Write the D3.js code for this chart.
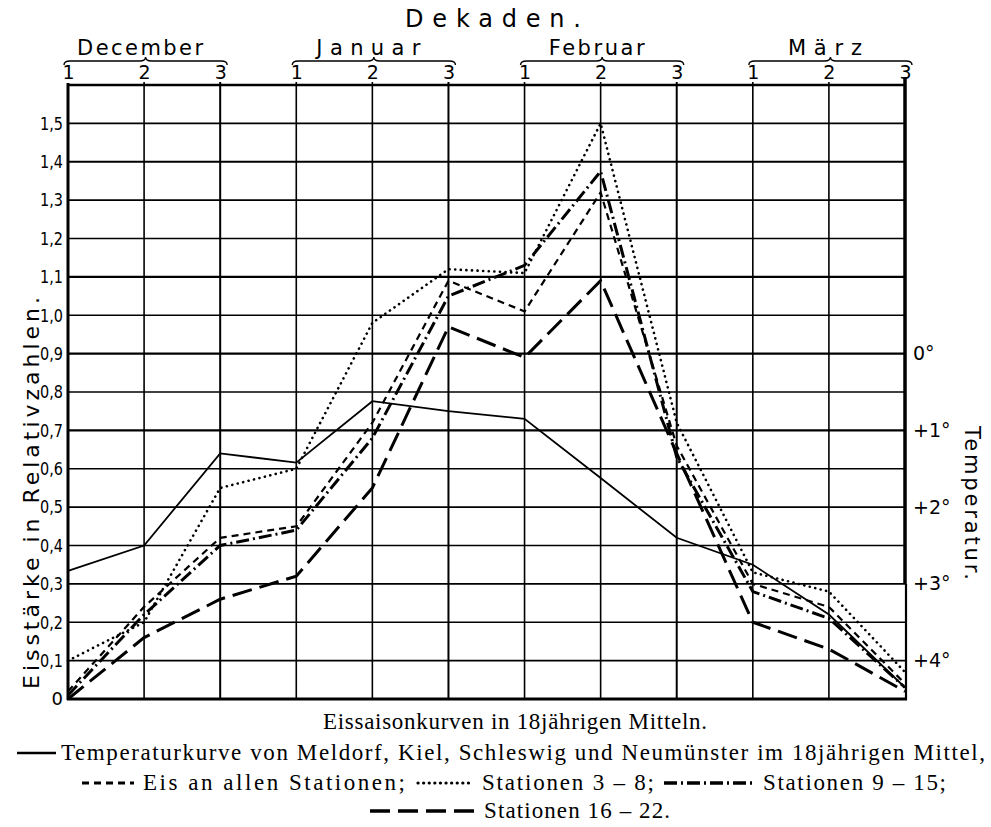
<!DOCTYPE html>
<html>
<head>
<meta charset="utf-8">
<script src="https://cdn.jsdelivr.net/npm/d3@7"></script>
<style>
body { margin: 0; background: #fff; }
</style>
</head>
<body>
<div id="view"></div>
<script>
// Dekaden: je drei pro Monat
var months = ["December", "Januar", "Februar", "März"];
var decades = ["1", "2", "3", "1", "2", "3", "1", "2", "3", "1", "2", "3"];
var yTicks = [0, 0.1, 0.2, 0.3, 0.4, 0.5, 0.6, 0.7, 0.8, 0.9, 1.0, 1.1, 1.2, 1.3, 1.4, 1.5];
var tempTicks = [0, 1, 2, 3, 4];
var tempLabels = ["0°", "+1°", "+2°", "+3°", "+4°"];

// Temperatur in Grad (rechte Skala)
var temperatur = [2.83, 2.5, 1.3, 1.42, 0.62, 0.75, 0.85, 1.62, 2.4, 2.75, 3.4, 4.35];
// Eisstaerke in Relativzahlen (linke Skala)
var eisAlle = [0.02, 0.24, 0.42, 0.45, 0.72, 1.09, 1.01, 1.32, 0.66, 0.30, 0.24, 0.04];
var stat3bis8 = [0.10, 0.20, 0.55, 0.60, 0.98, 1.12, 1.11, 1.50, 0.72, 0.33, 0.28, 0.07];
var stat9bis15 = [0.01, 0.22, 0.40, 0.44, 0.68, 1.05, 1.13, 1.375, 0.63, 0.28, 0.21, 0.03];
var stat16bis22 = [0.0, 0.16, 0.26, 0.32, 0.55, 0.97, 0.89, 1.09, 0.64, 0.20, 0.13, 0.02];

var W = 991, H = 827;
var svg = d3.select("#view")
	.append("svg")
	.attr("id", "main-svg")
	.attr("width", W)
	.attr("height", H)
	.style("font-family", "'DejaVu Sans', sans-serif");

var x = d3.scaleLinear().domain([0, decades.length - 1]).range([68, 905]);
var y = d3.scaleLinear().domain([0, 1.6]).range([699, 85]);
// 0 Grad liegt auf 0,9 , jedes Grad = 0,2
var t = d3.scaleLinear().domain([0, 4]).range([y(0.9), y(0.1)]);

// Gitter
svg.append("g").selectAll("line")
	.data(d3.range(1, 16).map(function(i){ return i / 10; }))
  .enter().append("line")
	.attr("x1", x(0)).attr("x2", x(11))
	.attr("y1", function(d){ return y(d); })
	.attr("y2", function(d){ return y(d); })
	.style("stroke", "#000")
	.style("stroke-width", function(d){ return [1.4, 1.1, 0.9, 0.7].indexOf(d) >= 0 ? 2.2 : 1.6; });

svg.append("g").selectAll("line")
	.data(d3.range(1, 11))
  .enter().append("line")
	.attr("x1", function(d){ return x(d); })
	.attr("x2", function(d){ return x(d); })
	.attr("y1", y(1.6) - 3).attr("y2", y(0))
	.style("stroke", "#000")
	.style("stroke-width", function(d){ return d % 3 == 2 ? 2 : 1.6; });

// Rahmen
svg.append("line").attr("x1", x(0) - 1).attr("x2", x(11) + 1).attr("y1", y(1.6)).attr("y2", y(1.6))
	.style("stroke", "#000").style("stroke-width", 2.4);
svg.append("line").attr("x1", x(0) - 1).attr("x2", x(11) + 2).attr("y1", y(0)).attr("y2", y(0))
	.style("stroke", "#000").style("stroke-width", 3);
svg.append("line").attr("x1", x(0)).attr("x2", x(0)).attr("y1", y(1.6) - 2).attr("y2", y(0) + 1)
	.style("stroke", "#000").style("stroke-width", 3);
svg.append("line").attr("x1", x(11)).attr("x2", x(11)).attr("y1", y(1.6) - 8).attr("y2", y(0.3))
	.style("stroke", "#000").style("stroke-width", 3.5);
svg.append("line").attr("x1", x(11) + 1).attr("x2", x(11) + 1).attr("y1", y(0.3)).attr("y2", y(0) + 1)
	.style("stroke", "#000").style("stroke-width", 2.2);

// linke Achse
var fmt = function(d){ return d === 0 ? "0" : d3.format(".1f")(d).replace(".", ","); };
var yAxis = svg.append("g")
	.attr("transform", "translate(63,0)")
	.call(d3.axisLeft(y).tickValues(yTicks).tickSize(0).tickPadding(0).tickFormat(fmt));
yAxis.select(".domain").remove();
yAxis.selectAll("text")
	.attr("textLength", function(d){ return d === 0 ? null : 23; })
	.attr("lengthAdjust", "spacingAndGlyphs")
	.style("font-size", "18px")
	.style("font-family", "'DejaVu Sans'")
	.attr("fill", "#000");

// rechte Achse (Temperatur)
var tAxis = svg.append("g")
	.attr("transform", "translate(913,0)")
	.call(d3.axisRight(t).tickValues(tempTicks).tickSize(0).tickPadding(0)
		.tickFormat(function(d, i){ return tempLabels[i]; }));
tAxis.select(".domain").remove();
tAxis.selectAll("text").style("font-size", "19px").style("font-family", "'DejaVu Sans'").attr("fill", "#000");

// Dekaden oben
var xAxis = svg.append("g")
	.attr("transform", "translate(0,79)")
	.call(d3.axisTop(x).tickValues(d3.range(decades.length)).tickSize(0).tickPadding(0)
		.tickFormat(function(i){ return decades[i]; }));
xAxis.select(".domain").remove();
xAxis.selectAll("text").style("font-size", "19px").style("font-family", "'DejaVu Sans'").attr("fill", "#000");

// Monatsnamen mit Klammern
var monthWidths = [126, 104, 96, 74];
svg.append("g").selectAll("text")
	.data(months)
  .enter().append("text")
	.attr("x", function(d, i){ return x(i * 3 + 1) - 4; })
	.attr("y", 55)
	.attr("text-anchor", "middle")
	.attr("textLength", function(d, i){ return monthWidths[i]; })
	.style("font-size", "21px")
	.text(function(d){ return d; });

svg.append("g").selectAll("path")
	.data(months)
  .enter().append("path")
	.attr("d", function(d, i){
		var x0 = x(i * 3) - 4, x1 = x(i * 3 + 2) + 7, m = (x0 + x1) / 2, b = 61;
		return "M" + x0 + "," + (b + 4) + " Q" + x0 + "," + b + " " + (x0 + 6) + "," + b +
			" L" + (m - 6) + "," + b + " Q" + m + "," + b + " " + m + "," + (b - 4) +
			" Q" + m + "," + b + " " + (m + 6) + "," + b +
			" L" + (x1 - 6) + "," + b + " Q" + x1 + "," + b + " " + x1 + "," + (b + 4);
	})
	.style("fill", "none")
	.style("stroke", "#000")
	.style("stroke-width", 1.4);

svg.append("text")
	.attr("x", 493).attr("y", 27)
	.attr("text-anchor", "middle")
	.attr("textLength", 176)
	.style("font-size", "24px")
	.text("Dekaden.");

// Achsentitel
svg.append("text")
	.attr("transform", "translate(39,493) rotate(-90)")
	.attr("text-anchor", "middle")
	.attr("textLength", 392)
	.style("font-size", "22px")
	.text("Eisstärke in Relativzahlen.");

svg.append("text")
	.attr("transform", "translate(965,503) rotate(90)")
	.attr("text-anchor", "middle")
	.attr("textLength", 154)
	.style("font-size", "21px")
	.text("Temperatur.");

// Kurven
var series = [
	{ values: eisAlle, dash: "7,5", width: 2.2, cap: "butt" },
	{ values: stat3bis8, dash: "0.1,5.5", width: 2.6, cap: "round" },
	{ values: stat9bis15, dash: "13,4,2,4", width: 3, cap: "butt" },
	{ values: stat16bis22, dash: "20,8", width: 3, cap: "butt" }
];

var line = d3.line()
	.x(function(d, i){ return x(i); })
	.y(function(d){ return y(d); });

svg.append("g").selectAll("path")
	.data(series)
  .enter().append("path")
	.attr("d", function(d){ return line(d.values); })
	.style("fill", "none")
	.style("stroke", "#000")
	.style("stroke-width", function(d){ return d.width; })
	.style("stroke-dasharray", function(d){ return d.dash; })
	.style("stroke-linecap", function(d){ return d.cap; });

var tempLine = d3.line()
	.x(function(d, i){ return x(i); })
	.y(function(d){ return t(d); });

svg.append("path")
	.attr("d", tempLine(temperatur))
	.style("fill", "none")
	.style("stroke", "#000")
	.style("stroke-width", 1.8);

// Unterschrift und Legende
var serif = "'Liberation Serif', serif";
function caption(txt, xx, yy, len){
	svg.append("text")
		.attr("x", xx).attr("y", yy)
		.attr("textLength", len)
		.style("font-family", serif)
		.style("font-size", "23px")
		.text(txt);
}
function sample(x0, x1, yy, s){
	svg.append("line")
		.attr("x1", x0).attr("x2", x1).attr("y1", yy).attr("y2", yy)
		.style("stroke", "#000")
		.style("stroke-width", s ? s.width + 0.6 : 2.4)
		.style("stroke-dasharray", s ? s.dash : null)
		.style("stroke-linecap", s ? s.cap : "butt");
}

caption("Eissaisonkurven in 18jährigen Mitteln.", 323, 729, 384);
sample(17, 56, 753, null);
caption("Temperaturkurve von Meldorf, Kiel, Schleswig und Neumünster im 18jährigen Mittel,", 61, 760, 924);
sample(82, 134, 783, series[0]);
caption("Eis an allen Stationen;", 143, 790, 262);
sample(418, 474, 783, series[1]);
caption("Stationen 3 – 8;", 482, 790, 172);
sample(664, 752, 783, series[2]);
caption("Stationen 9 – 15;", 763, 790, 183);
sample(370, 475, 811, series[3]);
caption("Stationen 16 – 22.", 484, 818, 186);
</script>
</body>
</html>
